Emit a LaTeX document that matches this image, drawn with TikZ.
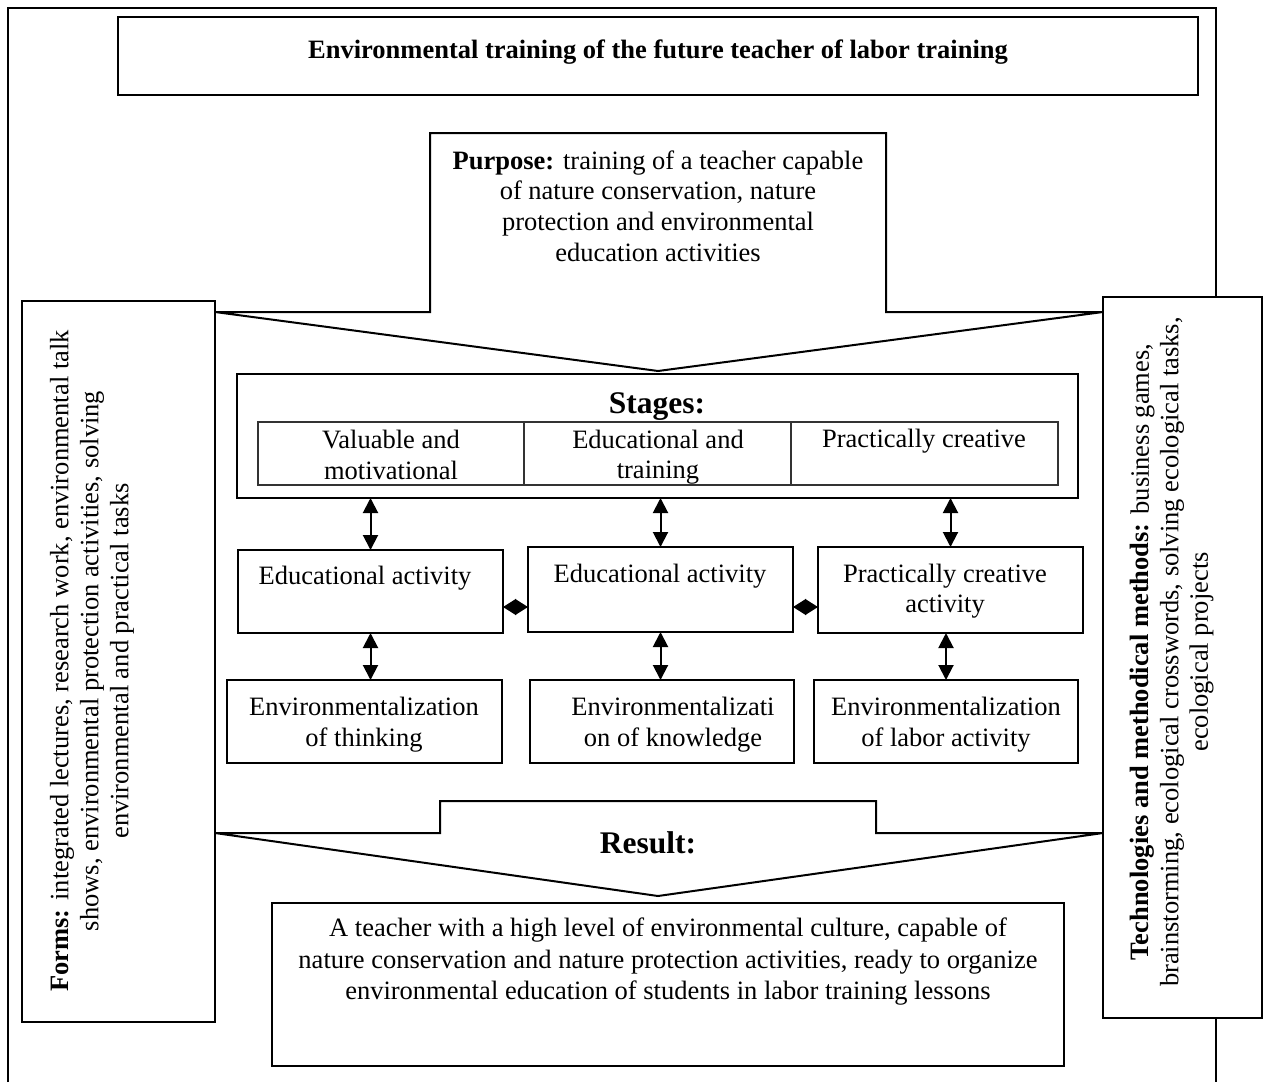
\documentclass[tikz,border=0pt]{standalone}
\usepackage{fontspec}
\setmainfont{Liberation Serif}
\usetikzlibrary{arrows.meta,calc}
\begin{document}
\begin{tikzpicture}[x=1pt,y=-1pt,
  box/.style={draw, line width=2pt, fill=white, inner sep=0pt, outer sep=0pt},
  cell/.style={draw=black!80, line width=1.2pt, inner sep=0pt, outer sep=0pt, minimum height=63pt},
  txt/.style={inner sep=0pt, align=center, font=\fontsize{26.5}{30.5}\selectfont},
  big/.style={inner sep=0pt, font=\fontsize{31.5}{36}\selectfont\bfseries},
  dbl/.style={line width=2pt, {Triangle[width=15pt,length=15pt]}-{Triangle[width=15pt,length=15pt]}},
  star/.style={line width=1.5pt, {Triangle[width=16pt,length=13pt]}-{Triangle[width=16pt,length=13pt]}},
  outline/.style={line width=2pt, line join=miter}
]
\useasboundingbox (0,0) rectangle (1264,1082);
\fill[white] (0,0) rectangle (1264,1082);
% outer frame
\draw[outline] (8,1082) -- (8,8) -- (1216,8) -- (1216,1082);
% title
\node[box, minimum width=1080pt, minimum height=78pt] (title) at (658,56) {};
\node[txt, font=\fontsize{26.5}{30.5}\selectfont\bfseries] (titletext) at (658,52) {Environmental training of the future teacher of labor training};
% purpose arrow shape
\coordinate (ptip) at (658,371);
\coordinate (rtip) at (658,896);
\draw[outline, fill=white] (215,312) -- (430,312) -- (430,133) -- (886,133) -- (886,312) -- (1103,312) -- (ptip) -- cycle;
\node[txt, font=\fontsize{26.5}{30.7}\selectfont] (purposetext) at (658,206) {\textbf{Purpose:} training of a teacher capable\\of nature conservation, nature\\protection and environmental\\education activities};
% result arrow shape
\draw[outline, fill=white] (215,833) -- (440,833) -- (440,801) -- (876,801) -- (876,833) -- (1103,833) -- (rtip) -- cycle;
\node[big] (resultlabel) at (648,843) {Result:};
% side boxes
\node[box, minimum width=193pt, minimum height=721pt] (L) at (118.5,661.5) {};
\node[txt, rotate=90, font=\fontsize{26.5}{30}\selectfont] (formstext) at (92,661) {\textbf{Forms:} integrated lectures, research work, environmental talk\\shows, environmental protection activities, solving\\environmental and practical tasks};
\node[box, minimum width=159pt, minimum height=721pt] (R) at (1182.5,657.5) {};
\node[txt, rotate=90, font=\fontsize{26.5}{29.5}\selectfont] (techtext) at (1172,652) {\textbf{Technologies and methodical methods:} business games,\\brainstorming, ecological crosswords, solving ecological tasks,\\ecological projects};
% stages
\node[box, minimum width=841pt, minimum height=124pt] (S) at (657.5,436) {};
\node[big] (stagestext) at (657,407) {Stages:};
\node[cell, minimum width=266pt] (T1) at (391,453.5) {};
\node[cell, minimum width=267pt] (T2) at (657.5,453.5) {};
\node[cell, minimum width=267pt] (T3) at (924.5,453.5) {};
\node[txt] (T1text) at (391,455) {Valuable and\\motivational};
\node[txt] (T2text) at (658,457) {Educational and\\training};
\node[txt] (T3text) at (924,441) {Practically creative};
% activity row
\node[box, minimum width=265pt, minimum height=83pt] (A) at (370.5,591.5) {};
\node[box, minimum width=265pt, minimum height=85pt] (B) at (660.5,589.5) {};
\node[box, minimum width=265pt, minimum height=86pt] (C) at (950.5,590) {};
\node[txt] (Atext) at (365,578) {Educational activity};
\node[txt] (Btext) at (660,576) {Educational activity};
\node[txt] (Ctext) at (945,591) {Practically creative\\activity};
% environmentalization row
\node[box, minimum width=275pt, minimum height=83pt] (D) at (364.5,721.5) {};
\node[box, minimum width=264pt, minimum height=83pt] (E) at (662,721.5) {};
\node[box, minimum width=264pt, minimum height=83pt] (F) at (946,721.5) {};
\node[txt] (Dtext) at (364,724.5) {Environmentalization\\of thinking};
\node[txt] (Etext) at (673,724.5) {Environmentalizati\\on of knowledge};
\node[txt] (Ftext) at (946,724.5) {Environmentalization\\of labor activity};
% result box
\node[draw, line width=1.6pt, fill=white, inner sep=0pt, outer sep=0pt, minimum width=792pt, minimum height=163pt] (RB) at (668,984.5) {};
\node[txt, font=\fontsize{26.5}{31.5}\selectfont] (RBtext) at (668,962) {A teacher with a high level of environmental culture, capable of\\nature conservation and nature protection activities, ready to organize\\environmental education of students in labor training lessons};
% arrows
\draw[dbl] (S.south -| A.north) -- (A.north);
\draw[dbl] (S.south -| B.north) -- (B.north);
\draw[dbl] (S.south -| C.north) -- (C.north);
\draw[dbl] (A.south) -- (D.north -| A.south);
\draw[dbl] (B.south) -- (E.north -| B.south);
\draw[dbl] (C.south -| F.north) -- (F.north);
\draw[star] ($(A.east)+(0,15.5)$) -- ($(B.west |- A.east)+(0,15.5)$);
\draw[star] ($(B.east)+(0,17.5)$) -- ($(C.west |- B.east)+(0,17.5)$);
\end{tikzpicture}
\end{document}
